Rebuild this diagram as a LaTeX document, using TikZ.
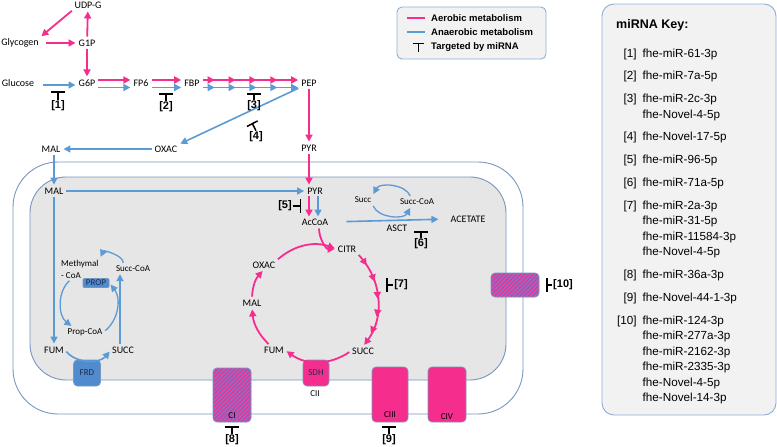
\documentclass[tikz,border=0pt]{standalone}
\usepackage{fontspec}
\setmainfont{Carlito}
\newfontfamily\arialfont{Liberation Sans}
\usepackage{tikz}
\usetikzlibrary{arrows.meta,positioning,calc,decorations.markings,patterns.meta}
\definecolor{mpink}{RGB}{245,45,140}
\definecolor{mblue}{RGB}{91,155,213}
\definecolor{mpurple}{RGB}{140,110,200}
\definecolor{membline}{RGB}{120,150,190}
\definecolor{ingrey}{RGB}{231,230,231}
\definecolor{boxblue}{RGB}{80,140,205}
\definecolor{boxtext}{RGB}{30,45,80}
\definecolor{keygrey}{RGB}{242,242,242}
\definecolor{keyline}{RGB}{140,175,215}
\tikzstyle{met} = [font=\fontsize{10}{12}\selectfont, inner sep=1pt]
\tikzstyle{smet} = [font=\fontsize{9}{12}\selectfont, inner sep=1pt]
\tikzstyle{aer} = [line width=1.8pt, color=mpink, -{Triangle[length=7pt,width=7pt]}, shorten <=2pt, shorten >=2pt]
\tikzstyle{anaer} = [line width=1.6pt, color=mblue, -{Triangle[length=7pt,width=7pt]}, shorten <=2pt, shorten >=2pt]
\tikzstyle{inhib} = [line width=1.5pt, -{Bar[width=14pt,line width=1.5pt]}]
\tikzstyle{mirlbl} = [font=\arialfont\bfseries\fontsize{11}{12}\selectfont, inner sep=1pt]
\tikzstyle{memb} = [draw=membline, line width=0.9pt]
\tikzstyle{cplx} = [draw=membline, line width=0.7pt, rounded corners=4pt, inner sep=0pt, font=\fontsize{9}{10}\selectfont, text=boxtext]
\tikzstyle{pinkbox} = [cplx, fill=mpink]
\tikzstyle{bluebox} = [cplx, fill=boxblue]
\tikzstyle{hatchbox} = [cplx, preaction={fill=mpurple}, pattern={Lines[angle=45,distance=3pt,line width=1.2pt]}, pattern color=mpink]
\tikzstyle{legtxt} = [font=\arialfont\bfseries\fontsize{9.5}{11}\selectfont, inner sep=0pt]
\tikzstyle{keybox} = [draw=keyline, fill=keygrey, line width=0.9pt]
\tikzset{multi/.style={postaction={decorate}, decoration={markings, mark=between positions #1 with {\arrow{Triangle[length=7pt,width=7pt]}}}}}

\begin{document}
\begin{tikzpicture}[x=1pt, y=1pt]
\useasboundingbox (0,0) rectangle (777,-447);
% Membranes
\draw[memb, fill=white, rounded corners=45pt] (13,-162) rectangle (523,-414);
\draw[memb, fill=ingrey, rounded corners=36pt] (30,-177) rectangle (506,-380);

% Complexes
\node[bluebox, minimum width=27pt, minimum height=26pt] (frd) at (87,-373) {FRD};
\node[pinkbox, minimum width=26pt, minimum height=26pt] (sdh) at (316,-373) {SDH};
\node[smet] (cii) at (315,-394) {CII};
\node[hatchbox, minimum width=38pt, minimum height=54pt] (ci) at (232,-395) {};
\node[smet] (cilbl) at ([yshift=7pt]ci.south) {CI};
\node[pinkbox, minimum width=36pt, minimum height=55pt] (ciii) at (390,-394.5) {};
\node[smet] (ciiilbl) at ([yshift=8pt]ciii.south) {CIII};
\node[pinkbox, minimum width=38pt, minimum height=55pt] (civ) at (447,-394.5) {};
\node[smet] (civlbl) at ([yshift=6pt]civ.south) {CIV};
\node[hatchbox, minimum width=48pt, minimum height=24pt] (trans) at (515,-285) {};

% Glycolysis
\node[met] (udpg) at (88,-5) {UDP-G};
\node[met] (glycogen) at (20,-43) {Glycogen};
\node[met] (g1p) at (87,-43) {G1P};
\node[met] (glucose) at (18,-83) {Glucose};
\node[met] (g6p) at (87,-83) {G6P};
\node[met] (fp6) at (141,-83) {FP6};
\node[met] (fbp) at (192,-83) {FBP};
\node[met] (pep) at (309,-83) {PEP};
\node[met] (pyr1) at (309,-148) {PYR};
\node[met] (oxac1) at (166,-149) {OXAC};
\node[met] (mal1) at (51,-149) {MAL};
\draw[aer, shorten <=6pt] (glycogen.east) -- (g1p.west);
\draw[aer] (g1p) -- (udpg);
\draw[aer] (udpg.south west) -- (glycogen.north east);
\draw[aer] (g1p) -- (g6p);
\draw[anaer, shorten <=8pt] ([yshift=-2pt]glucose.east) -- ([yshift=-2pt]g6p.west);
\draw[aer] ([yshift=3pt]g6p.east) -- ([yshift=3pt]fp6.west);
\draw[anaer] ([yshift=-4.5pt]g6p.east) -- ([yshift=-4.5pt]fp6.west);
\draw[aer] ([yshift=3pt]fp6.east) -- ([yshift=3pt]fbp.west);
\draw[anaer] ([yshift=-4.5pt]fp6.east) -- ([yshift=-4.5pt]fbp.west);
\draw[aer, multi=0.14 and 0.8 step 0.21] ([yshift=3pt]fbp.east) -- ([yshift=3pt]pep.west);
\draw[anaer, multi=0.14 and 0.8 step 0.21] ([yshift=-4.5pt]fbp.east) -- ([yshift=-4.5pt]pep.west);
\draw[aer] (pep) -- (pyr1);
\draw[anaer] (pep.south west) -- (oxac1.north east);
\draw[anaer] (oxac1) -- (mal1);
\node[mirlbl] (k1) at (58,-106) {[1]};
\coordinate (t1) at (58,-91);
\draw[inhib] (k1) -- (t1);
\node[mirlbl] (k2) at (166,-107) {[2]};
\coordinate (t2) at (166,-93);
\draw[inhib] (k2) -- (t2);
\node[mirlbl] (k3) at (254,-106) {[3]};
\coordinate (t3) at (254,-93);
\draw[inhib] (k3) -- (t3);
\node[mirlbl] (k4) at (256,-137) {[4]};
\coordinate (t4) at (252,-123);
\draw[inhib, -{Bar[width=12pt,line width=1.5pt]}] (k4.north) -- (t4);

% Mitochondrion
\node[met] (mal2) at (54,-191) {MAL};
\node[met] (pyr2) at (315,-191) {PYR};
\node[met] (accoa) at (315,-222) {AcCoA};
\draw[anaer] (mal2.north |- mal1.south) -- (mal2.north);
\draw[aer] (pyr1.south) -- (pyr1.south |- pyr2.north);
\draw[anaer] (mal2) -- (pyr2);
\draw[aer, shorten <=1pt, shorten >=1pt] ([xshift=-6pt]pyr2.south) -- ([xshift=-6pt]accoa.north);
\draw[anaer, shorten <=1pt, shorten >=1pt] ([xshift=3pt]pyr2.south) -- ([xshift=3pt]accoa.north);
\node[mirlbl] (k5) at (285,-206) {[5]};
\coordinate (t5) at (301,-206);
\draw[inhib] (k5) -- (t5);

% Acetate
\node[smet] (succa) at (363,-200) {Succ};
\node[smet] (succcoa1) at (417,-202) {Succ-CoA};
\node[met] (acetate) at (468,-219) {ACETATE};
\node[met] (asct) at (397,-228) {ASCT};
\draw[anaer, shorten <=17pt, shorten >=11pt] (accoa.east) -- (acetate.west);
\draw[anaer, line width=1.3pt] ([xshift=-6pt]succcoa1.north) to[bend right=65] (succa.north east);
\draw[anaer, line width=1.3pt] (succa.south east) to[bend right=65] ([xshift=-6pt]succcoa1.south);
\node[mirlbl] (k6) at (421,-244) {[6]};
\coordinate (t6) at (421,-231);
\draw[inhib] (k6) -- (t6);

% Krebs cycle
\node[met] (citr) at (347,-249) {CITR};
\node[met] (oxac2) at (264,-265) {OXAC};
\node[met] (mal3) at (252,-303) {MAL};
\node[met] (fum2) at (274,-350) {FUM};
\node[met] (succ2) at (363,-351) {SUCC};
\draw[aer] ([xshift=4pt]accoa.south) to[out=-90, in=180] (citr.west);
\draw[aer] (oxac2.north east) to[bend left=30] (citr.west);
\draw[aer, multi=0.15 and 0.86 step 0.175] (citr.south east) to[bend left=40] (succ2.north);
\draw[aer] (succ2.west) to[bend left=35] (fum2.east);
\draw[aer] ([xshift=-4pt]fum2.north) to[bend left=20] (mal3.south);
\draw[aer] (mal3.north) to[bend left=20] (oxac2.south);
\node[mirlbl] (k7) at (401,-285) {[7]};
\coordinate (t7) at (386,-285);
\draw[inhib] (k7) -- (t7);

% Propionate
\node[met] (fum1) at (54,-350) {FUM};
\node[met] (succ1) at (123,-350) {SUCC};
\node[smet] (succcoa2) at (133,-269) {Succ-CoA};
\node[smet, align=left, anchor=west] (methyl) at (60,-269) {Methymal\\- CoA};
\node[smet] (propcoa) at (85,-332) {Prop-CoA};
\node[bluebox, minimum width=26pt, minimum height=9pt, rounded corners=1pt] (prop) at (96,-283) {PROP};
\draw[anaer] (mal2) -- (fum1);
\draw[anaer] (fum1.east) to[bend right=50] (succ1.west);
\draw[anaer, shorten >=1pt] ([xshift=-3pt]succ1.north) -- ([xshift=-3pt]succ1.north |- succcoa2.south);
\draw[anaer, line width=1.3pt] ([xshift=-10pt]succcoa2.north) to[bend right=80] (methyl.north east);
\draw[anaer, line width=1.3pt] ([xshift=-9pt]methyl.south) to[bend right=50] ([xshift=-12pt]propcoa.north);
\draw[anaer, line width=1.3pt] (propcoa.east) to[bend right=45] (prop.east);

% Complex inhibitors
\node[mirlbl] (k8) at (232,-440) {[8]};
\coordinate (t8) at (232,-426);
\draw[inhib] (k8) -- (t8);
\node[mirlbl] (k9) at (389,-440) {[9]};
\coordinate (t9) at (389,-426);
\draw[inhib] (k9) -- (t9);
\node[mirlbl] (k10) at (563,-285) {[10]};
\coordinate (t10) at (546,-285);
\draw[inhib] (k10) -- (t10);

% Legend
\draw[keybox, rounded corners=5pt] (397,-7) rectangle (546,-59);
\node[legtxt, anchor=west] (leg1) at (431,-18) {Aerobic metabolism};
\node[legtxt, anchor=west] (leg2) at (431,-32) {Anaerobic metabolism};
\node[legtxt, anchor=west] (leg3) at (431,-47) {Targeted by miRNA};
\draw[mpink, line width=1.4pt] ([xshift=-24pt]leg1.west) -- ([xshift=-6pt]leg1.west);
\draw[mblue, line width=1.4pt] ([xshift=-24pt]leg2.west) -- ([xshift=-6pt]leg2.west);
\draw[line width=1pt, -{Bar[width=11pt,line width=1pt]}] ([xshift=-13pt,yshift=-5pt]leg3.west) -- ([xshift=-13pt,yshift=4pt]leg3.west);

% miRNA key
\draw[keybox, rounded corners=12pt] (602,-4) rectangle (776,-415);
\node[font=\arialfont\bfseries\fontsize{12.5}{14}\selectfont, anchor=west, inner sep=0pt] (keyttl) at (616,-25) {miRNA Key:};
\node[font=\arialfont\fontsize{11.7}{15.5}\selectfont, anchor=base west, inner sep=0pt] (keylist) at (617,-57) {%
\begin{tabular}[t]{@{}r@{\hspace{6pt}}l@{}}
[1] & fhe-miR-61-3p\\[7.3pt]
[2] & fhe-miR-7a-5p\\[7.3pt]
[3] & fhe-miR-2c-3p\\
    & fhe-Novel-4-5p\\[7.3pt]
[4] & fhe-Novel-17-5p\\[7.3pt]
[5] & fhe-miR-96-5p\\[7.3pt]
[6] & fhe-miR-71a-5p\\[7.3pt]
[7] & fhe-miR-2a-3p\\
    & fhe-miR-31-5p\\
    & fhe-miR-11584-3p\\
    & fhe-Novel-4-5p\\[7.3pt]
[8] & fhe-miR-36a-3p\\[7.3pt]
[9] & fhe-Novel-44-1-3p\\[7.3pt]
[10] & fhe-miR-124-3p\\
    & fhe-miR-277a-3p\\
    & fhe-miR-2162-3p\\
    & fhe-miR-2335-3p\\
    & fhe-Novel-4-5p\\
    & fhe-Novel-14-3p
\end{tabular}};
\end{tikzpicture}
\end{document}
